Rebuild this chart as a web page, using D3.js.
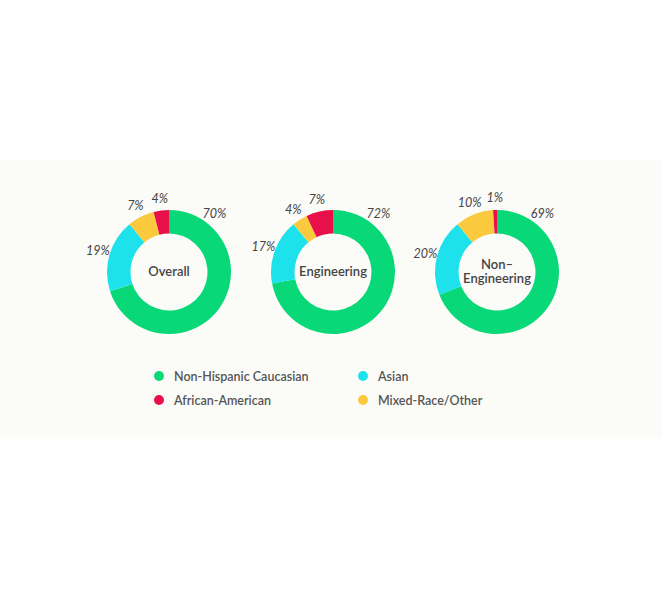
<!DOCTYPE html>
<html>
<head>
<meta charset="utf-8">
<script src="https://cdn.jsdelivr.net/npm/d3@7"></script>
<style>
  body { margin: 0; background: #ffffff; }
  svg { display: block; font-family: Lato, "Open Sans", sans-serif; }
</style>
</head>
<body>
<svg id="chart" width="662" height="600"></svg>
<script>
// data
const groups = ["Non-Hispanic Caucasian", "Asian", "Mixed-Race/Other", "African-American"];
const charts = ["Overall", "Engineering", "Non–Engineering"];
const overall = [70, 19, 7, 4];
const engineering = [72, 17, 4, 7];
const nonEngineering = [69, 20, 10, 1];
const legendOrder = ["Non-Hispanic Caucasian", "Asian", "African-American", "Mixed-Race/Other"];

const series = [overall, engineering, nonEngineering];

const color = d3.scaleOrdinal()
    .domain(groups)
    .range(["#08d877", "#1de2ec", "#fbc93d", "#e8104a"]);

const svg = d3.select("#chart");

// light panel
svg.append("rect")
    .attr("x", 0)
    .attr("y", 160)
    .attr("width", 662)
    .attr("height", 277)
    .attr("fill", "#fbfbf8");

const outerR = 62;
const innerR = 38.5;
const cy = 272;

const xScale = d3.scalePoint()
    .domain(charts)
    .range([169, 497]);

const pie = d3.pie().sort(null).value(d => d);
const arc = d3.arc().innerRadius(innerR).outerRadius(outerR);

charts.forEach((name, i) => {
    const g = svg.append("g")
        .attr("transform", `translate(${xScale(name)},${cy})`);

    const arcs = pie(series[i]);

    g.selectAll("path")
        .data(arcs)
        .enter()
        .append("path")
        .attr("d", arc)
        .attr("fill", (d, j) => color(groups[j]));

    // labels outside, big slice label pulled toward the top
    g.selectAll("text.pct")
        .data(arcs)
        .enter()
        .append("text")
        .attr("class", "pct")
        .each(function(d) {
            let a = (d.startAngle + d.endAngle) / 2;
            a = Math.min(a, d.startAngle + 0.66);
            const rr = 74;
            d3.select(this)
                .attr("x", Math.sin(a) * rr)
                .attr("y", -Math.cos(a) * rr + 4);
        })
        .attr("text-anchor", "middle")
        .attr("font-size", 12.5)
        .attr("font-style", "italic")
        .attr("fill", "#444")
        .text(d => d.value + "%");

    const lines = name.indexOf("–") >= 0 ? [name.split("–")[0] + "–", name.split("–")[1]] : [name];
    const center = g.append("text")
        .attr("text-anchor", "middle")
        .attr("font-size", 13)
        .attr("font-weight", 600)
        .attr("fill", "#444");
    lines.forEach((t, k) => {
        center.append("tspan")
            .attr("x", 0)
            .attr("y", (k - (lines.length - 1) / 2) * 14 + 3.5)
            .text(t);
    });
});

// legend
const legX = d3.scalePoint().domain([0, 1]).range([159, 363]);
const legY = d3.scalePoint().domain([0, 1]).range([376, 400]);

const leg = svg.selectAll("g.leg")
    .data(legendOrder)
    .enter()
    .append("g")
    .attr("class", "leg")
    .attr("transform", (d, i) => `translate(${legX(i % 2)},${legY(Math.floor(i / 2))})`);

leg.append("circle")
    .attr("r", 5)
    .attr("fill", d => color(d));

leg.append("text")
    .attr("x", 15)
    .attr("y", 4.5)
    .attr("font-size", 12.5)
    .attr("font-weight", 600)
    .attr("fill", "#555")
    .text(d => d);
</script>
</body>
</html>
